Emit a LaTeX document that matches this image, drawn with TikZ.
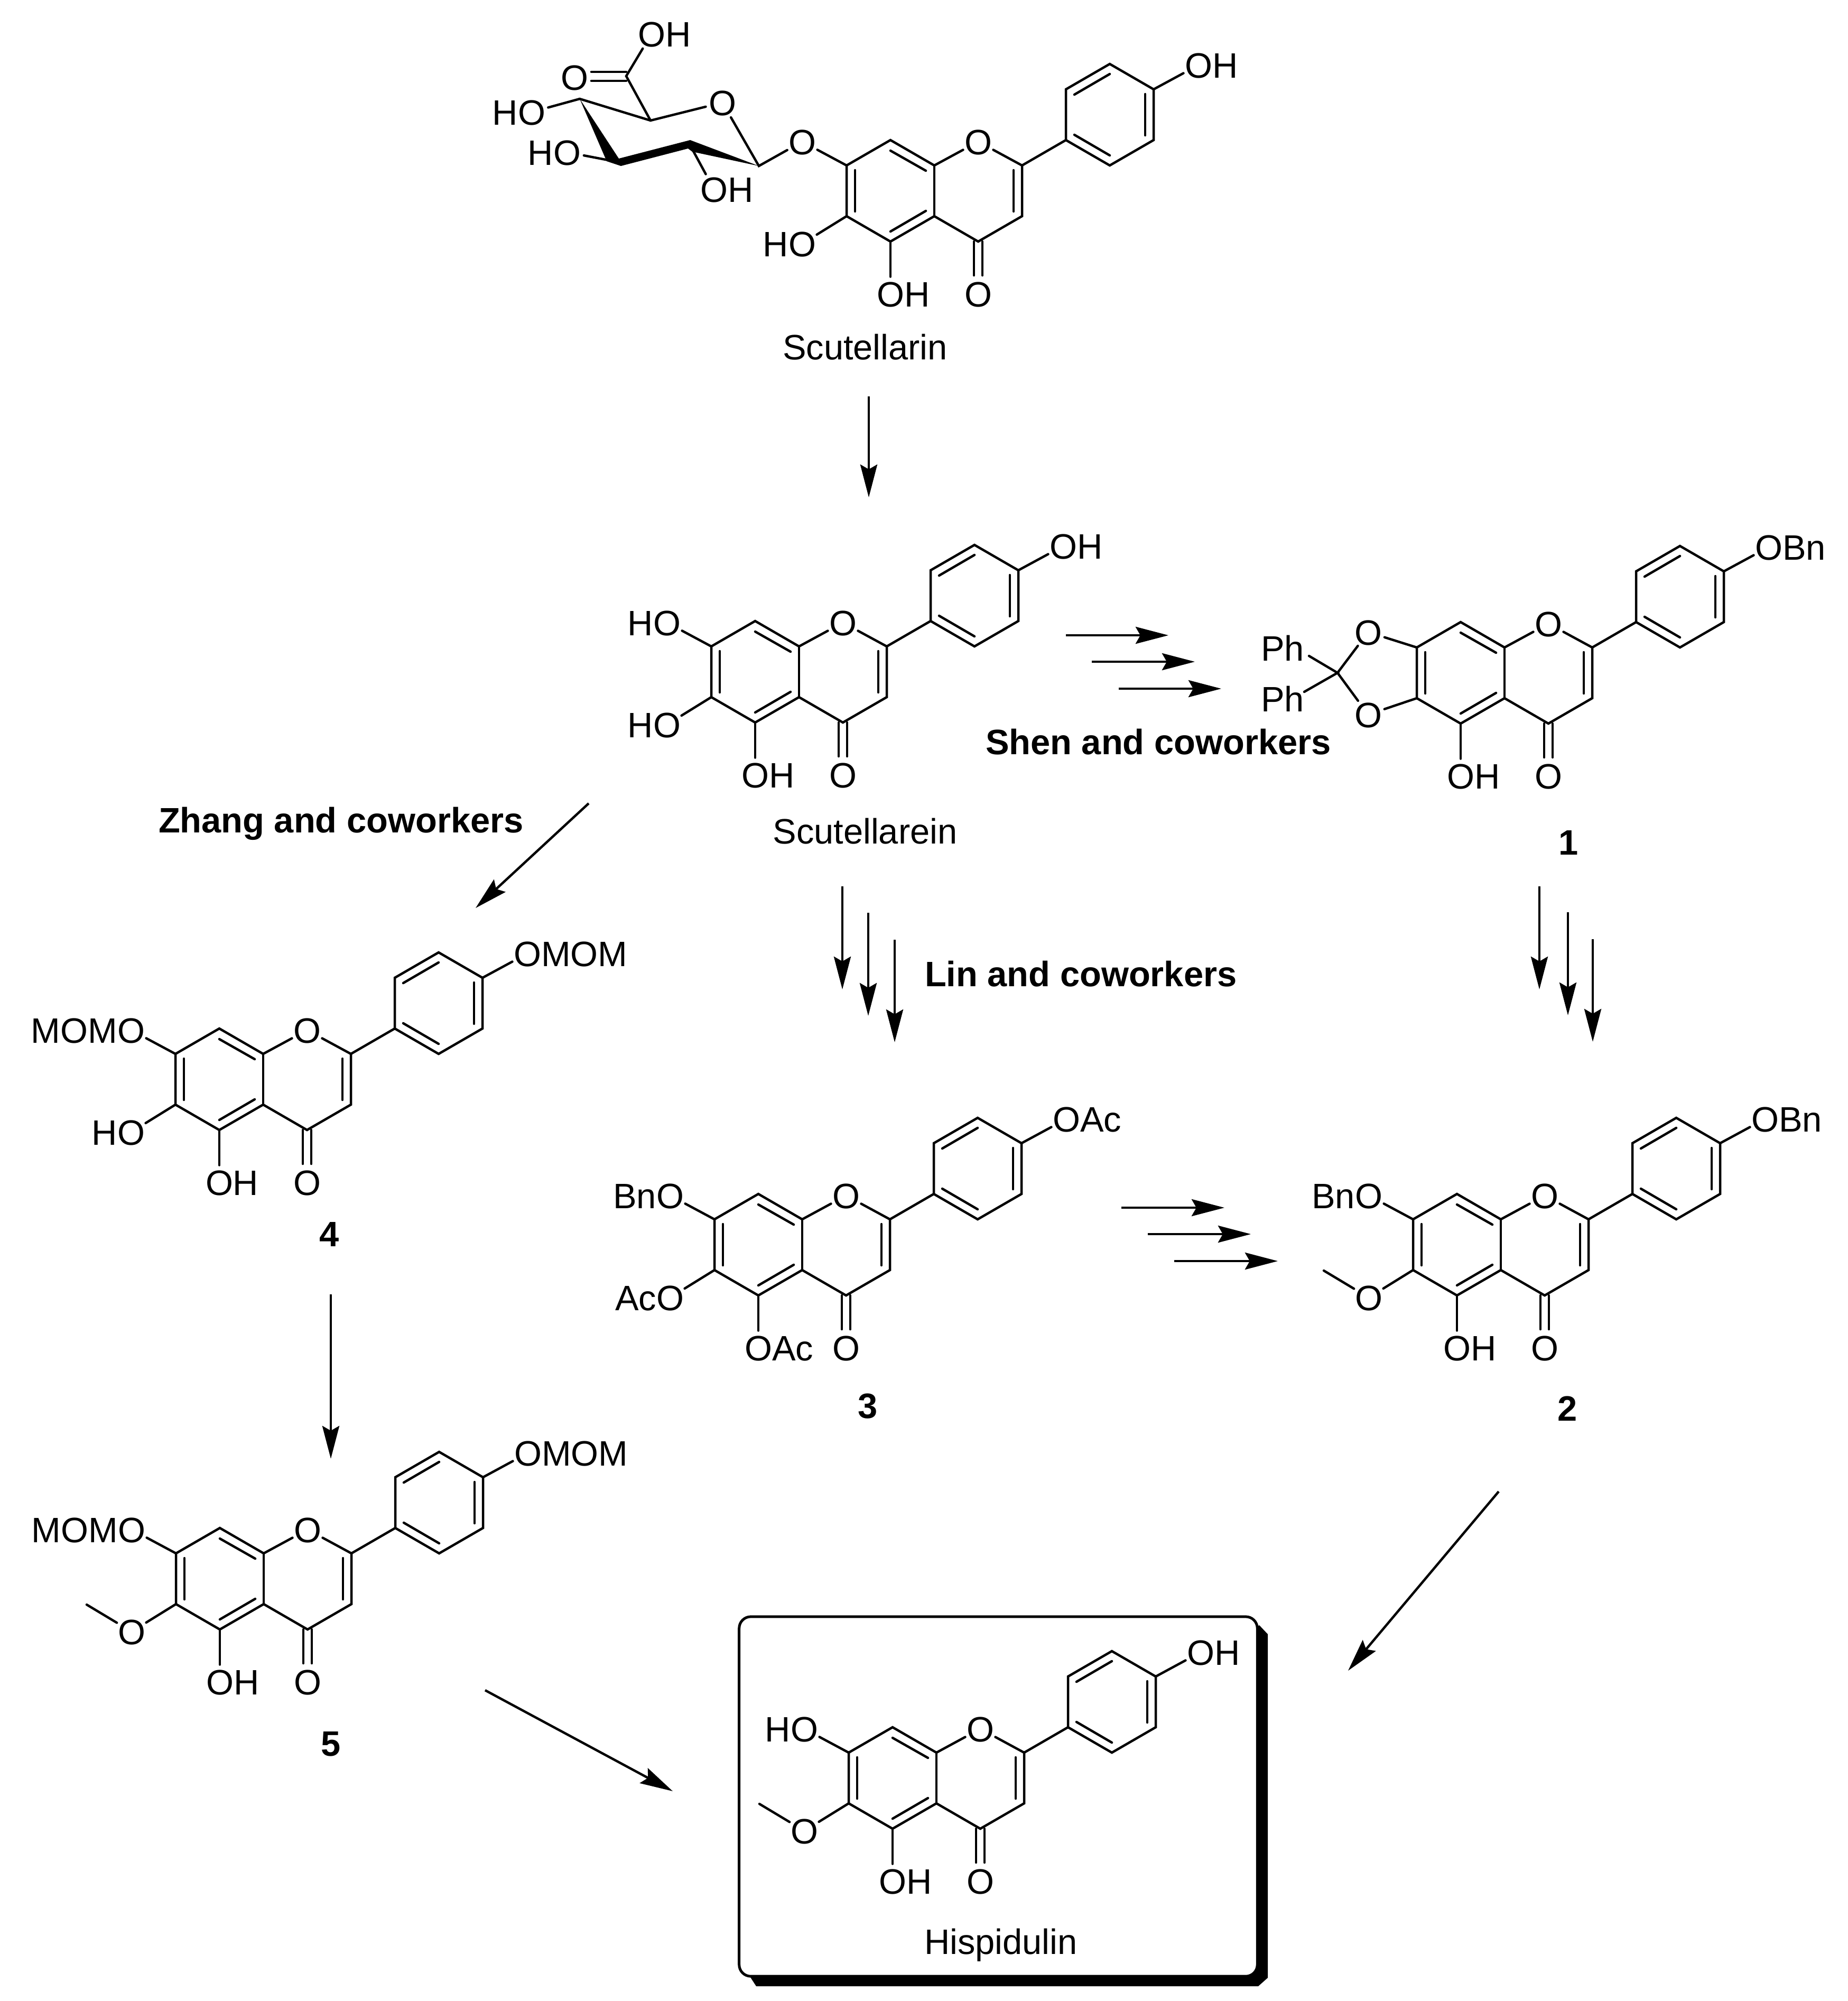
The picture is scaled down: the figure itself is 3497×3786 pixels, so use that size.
\documentclass[tikz,border=0pt]{standalone}
\usepackage{fontspec}
\setmainfont{Liberation Sans}
\usetikzlibrary{arrows.meta}
\tikzset{
	bond/.style={line width=.045cm,line cap=round},
	atom/.style={circle,inner sep=-.02cm,outer sep=0pt,text height=.48cm,text depth=0pt},
	caption/.style={inner sep=0pt,outer sep=0pt,text height=.48cm,text depth=0pt},
	rxn/.style={line width=.045cm,-{Stealth[length=.62cm,width=.32cm,inset=.09cm]}},
	hispbox/.style={draw,fill=white,line width=.05cm,rounded corners=.22cm,inner sep=0pt,outer sep=0pt,minimum width=9.8cm,minimum height=6.8cm}
}
\newcommand{\flavoneCore}[5]{
	% #1: name
	% #2: x of C8a
	% #3: y of C8a
	% #4: text at C5
	% #5: text at C4'
	\coordinate (#1c8a) at (#2,#3);
	\coordinate (#1c8) at (#2-83,#3-48);
	\coordinate (#1c7) at (#2-166,#3);
	\coordinate (#1c6) at (#2-166,#3+96);
	\coordinate (#1c5) at (#2-83,#3+144);
	\coordinate (#1c4a) at (#2,#3+96);
	\coordinate (#1c4) at (#2+83,#3+144);
	\coordinate (#1c3) at (#2+166,#3+96);
	\coordinate (#1c2) at (#2+166,#3);
	\coordinate (#1p1) at (#2+249,#3-48);
	\coordinate (#1p2) at (#2+249,#3-144);
	\coordinate (#1p3) at (#2+332,#3-192);
	\coordinate (#1p4) at (#2+415,#3-144);
	\coordinate (#1p5) at (#2+415,#3-48);
	\coordinate (#1p6) at (#2+332,#3);
	\node[atom] (#1o1) at (#2+83,#3-45) {O};
	\node[atom] (#1o4) at (#2+83,#3+243) {O};
	\node[atom] (#1o5) at (#2-83,#3+243) {#4};
	\node[atom] (#1op) at (#2+500,#3-190) {#5};
	% rings
	\draw[bond] (#1o1) -- (#1c8a) -- (#1c8) -- (#1c7) -- (#1c6) -- (#1c5) -- (#1c4a) -- (#1c4) -- (#1c3) -- (#1c2) -- (#1o1);
	\draw[bond] (#1c8a) -- (#1c4a);
	\draw[bond] (#1c2) -- (#1p1);
	\draw[bond] (#1p1) -- (#1p2) -- (#1p3) -- (#1p4) -- (#1p5) -- (#1p6) -- cycle;
	% inner lines of the double bonds
	\draw[bond] (#2-150,#3+9) to (#2-150,#3+87);
	\draw[bond] (#2-83,#3-28) to (#2-16,#3+10);
	\draw[bond] (#2-83,#3+125) to (#2-16,#3+86);
	\draw[bond] (#2+150,#3+9) to (#2+150,#3+87);
	\draw[bond] (#2+265,#3-134) to (#2+332,#3-173);
	\draw[bond] (#2+399,#3-135) to (#2+399,#3-57);
	\draw[bond] (#2+265,#3-58) to (#2+332,#3-19);
	% carbonyl
	\draw[bond] (#2+75,#3+144) to (#2+75,#3+208);
	\draw[bond] (#2+91,#3+144) to (#2+91,#3+208);
	% substituents
	\draw[bond] (#1c5) -- (#1o5);
	\draw[bond] (#1p4) -- (#1op);
}
\newcommand{\flavone}[7]{
	% #1: name
	% #2: x of C8a
	% #3: y of C8a
	% #4: text at C5
	% #5: text at C4'
	% #6: text at C7
	% #7: text at C6
	\flavoneCore{#1}{#2}{#3}{#4}{#5}
	\node[atom] (#1o7) at (#2-250,#3-45) {#6};
	\node[atom] (#1o6) at (#2-250,#3+148) {#7};
	\draw[bond] (#1c7) -- (#1o7);
	\draw[bond] (#1c6) -- (#1o6);
}
\newcommand{\methyl}[3]{
	% #1: name of the molecule
	% #2: x of C8a
	% #3: y of C8a
	\coordinate (#1me) at (#2-335,#3+97);
	\draw[bond] (#1o6) -- (#1me);
}
\newcommand{\rxnarrow}[5]{
	% #1: name
	% #2,#3: start
	% #4,#5: tip
	\coordinate (#1s) at (#2,#3);
	\coordinate (#1t) at (#4,#5);
	\draw[rxn] (#1s) -- (#1t);
}

\begin{document}
\begin{tikzpicture}[x=.01cm,y=-.01cm,every node/.style={font=\fontsize{19}{23}\selectfont}]
\useasboundingbox (0,0) rectangle (3497,3786);

% box around the final product
\fill (2383,3075) -- (2399,3092) -- (2399,3742) -- (2381,3758) -- (1431,3758) -- (1416,3735) -- cycle;
\node[hispbox] (hispframe) at (1889,3399) {};

% scutellarin
\flavone{sn}{1768}{313}{O\rlap{H}}{O\rlap{H}}{O}{\llap{H}O}
\node[caption] (scutellarin) at (1637,656) {Scutellarin};

% sugar
\coordinate (sc1) at (1436,314);
\coordinate (sc2) at (1305,273);
\coordinate (sc3) at (1172,307);
\coordinate (sc4) at (1097,187);
\coordinate (sc5) at (1231,228);
\coordinate (scc) at (1185,144);
\node[atom] (sor) at (1367,194) {O};
\node[atom] (so4) at (1006,212) {\llap{H}O};
\node[atom] (so3) at (1073,288) {\llap{H}O};
\node[atom] (so2) at (1351,358) {O\rlap{H}};
\node[atom] (soa) at (1087,146) {O};
\node[atom] (sob) at (1233,64) {O\rlap{H}};
\draw[bond] (sc4) -- (sc5) -- (sor) -- (sc1) -- (sno7);
\draw[bond] (sc4) -- (so4);
\draw[bond] (sc3) -- (so3);
\draw[bond] (sc2) -- (so2);
\draw[bond] (sc5) -- (scc) -- (sob);
\draw[bond] (1119,136) to (1185,136);
\draw[bond] (1119,153) to (1185,153);
\fill (sc4) -- (1171,300) -- (1306,265) -- (sc1) -- (1310,287) -- (1302,281) -- (1175,314) -- (1148,305) -- cycle;

% scutellarein
\flavone{se}{1512}{1223}{O\rlap{H}}{O\rlap{H}}{\llap{H}O}{\llap{H}O}
\node[caption] (scutellarein) at (1637,1572) {Scutellarein};

% compound 1
\flavoneCore{one}{2847}{1225}{O\rlap{H}}{O\rlap{Bn}}
\coordinate (onecq) at (2531,1273);
\node[atom] (oneo7) at (2589,1196) {O};
\node[atom] (oneo6) at (2589,1352) {O};
\node[caption] (oneph1) at (2427,1226) {Ph};
\node[caption] (oneph2) at (2427,1322) {Ph};
\coordinate (onep1e) at (2477,1241);
\coordinate (onep2e) at (2468,1309);
\draw[bond] (onec7) -- (oneo7) -- (onecq) -- (oneo6) -- (onec6);
\draw[bond] (onep1e) -- (onecq) -- (onep2e);
\node[caption] (lab1) at (2968,1593) {\textbf{1}};

% compound 4
\flavone{four}{498}{1994}{O\rlap{H}}{O\rlap{MOM}}{\llap{MOM}O}{\llap{H}O}
\node[caption] (lab4) at (623,2334) {\textbf{4}};

% compound 5
\flavone{five}{499}{2939}{O\rlap{H}}{O\rlap{MOM}}{\llap{MOM}O}{O}
\methyl{five}{499}{2939}
\node[caption] (lab5) at (626,3298) {\textbf{5}};

% compound 3
\flavone{three}{1518}{2307}{O\rlap{Ac}}{O\rlap{Ac}}{\llap{Bn}O}{\llap{Ac}O}
\node[caption] (lab3) at (1642,2659) {\textbf{3}};

% compound 2
\flavone{two}{2840}{2307}{O\rlap{H}}{O\rlap{Bn}}{\llap{Bn}O}{O}
\methyl{two}{2840}{2307}
\node[caption] (lab2) at (2966,2664) {\textbf{2}};

% hispidulin
\flavone{hi}{1772}{3316}{O\rlap{H}}{O\rlap{H}}{\llap{H}O}{O}
\methyl{hi}{1772}{3316}
\node[caption] (hispidulin) at (1894,3673) {Hispidulin};

% authors
\node[caption,anchor=west] (shen) at (1865,1403) {\textbf{Shen and coworkers}};
\node[caption,anchor=west] (lin) at (1750,1842) {\textbf{Lin and coworkers}};
\node[caption,anchor=west] (zhang) at (300,1551) {\textbf{Zhang and coworkers}};

% scutellarin to scutellarein
\rxnarrow{aa}{1644}{750}{1644}{941}

% scutellarein to 1
\rxnarrow{ba}{2017}{1202}{2211}{1202}
\rxnarrow{bb}{2066}{1252}{2261}{1252}
\rxnarrow{bc}{2117}{1303}{2311}{1303}

% 1 to 2
\rxnarrow{ca}{2913}{1677}{2913}{1872}
\rxnarrow{cb}{2967}{1726}{2967}{1921}
\rxnarrow{cc}{3014}{1777}{3014}{1971}

% scutellarein to 3
\rxnarrow{da}{1594}{1677}{1594}{1872}
\rxnarrow{db}{1643}{1727}{1643}{1922}
\rxnarrow{dc}{1693}{1778}{1693}{1972}

% 3 to 2
\rxnarrow{ea}{2122}{2285}{2317}{2285}
\rxnarrow{eb}{2172}{2335}{2367}{2335}
\rxnarrow{ec}{2222}{2386}{2418}{2386}

% scutellarein to 4, 4 to 5
\rxnarrow{fa}{1114}{1520}{900}{1718}
\rxnarrow{fb}{626}{2449}{626}{2760}

% 5 and 2 to hispidulin
\rxnarrow{ga}{918}{3198}{1273}{3389}
\rxnarrow{gb}{2836}{2822}{2551}{3161}

\end{tikzpicture}
\end{document}
